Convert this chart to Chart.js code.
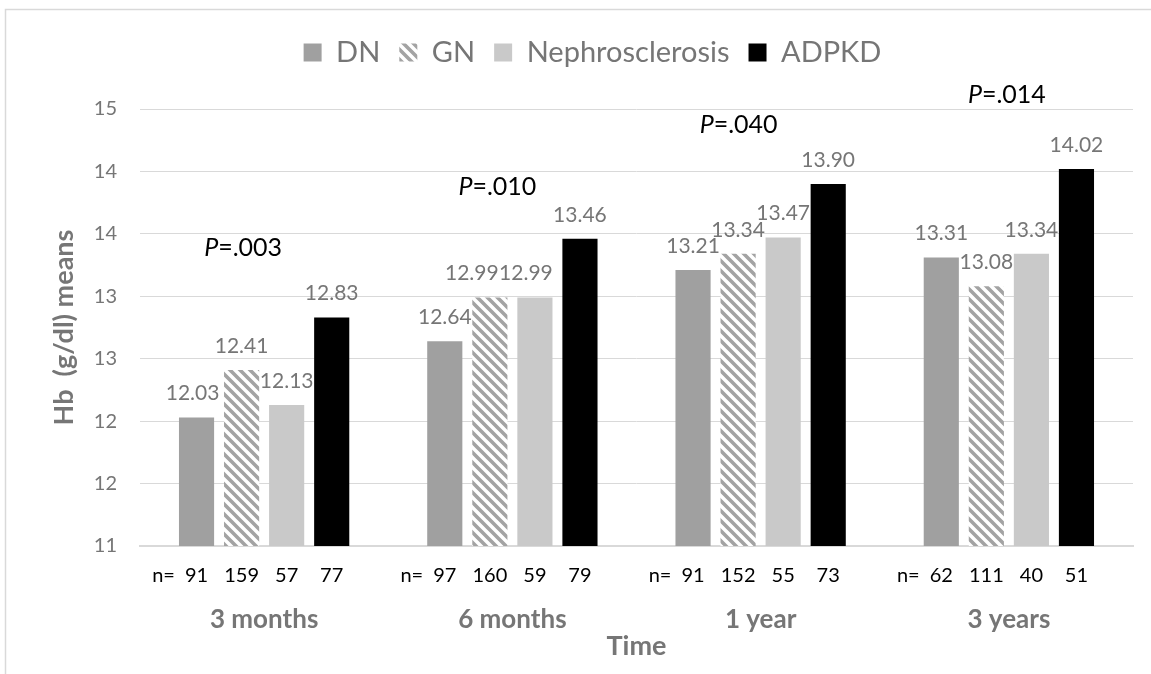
<!DOCTYPE html>
<html>
<head>
<meta charset="utf-8">
<script src="https://cdn.jsdelivr.net/npm/chart.js@4.4.1/dist/chart.umd.min.js"></script>
<style>
  html, body { margin: 0; padding: 0; background: #ffffff; }
  #wrap { position: relative; width: 1151px; height: 674px; }
</style>
</head>
<body>
<div id="wrap"><canvas id="chart"></canvas></div>
<script>
// Mean haemoglobin by primary kidney disease over follow-up
const categories = ['3 months', '6 months', '1 year', '3 years'];
const dnMeans = [12.03, 12.64, 13.21, 13.31];
const gnMeans = [12.41, 12.99, 13.34, 13.08];
const nephMeans = [12.13, 12.99, 13.47, 13.34];
const adpkdMeans = [12.83, 13.46, 13.90, 14.02];

// patients per group at each time point
const dnCounts = [91, 97, 91, 62];
const gnCounts = [159, 160, 152, 111];
const nephCounts = [57, 59, 55, 40];
const adpkdCounts = [77, 79, 73, 51];

// between-group P values per time point
const pValues = ['.003', '.010', '.040', '.014'];

// y tick labels (whole-number display of the half steps)
const yTickLabels = ['11', '12', '12', '13', '13', '14', '14', '15'];

const FONT = 'Lato, "Open Sans", sans-serif';
const GREY = '#767676';

// placement of the P-value annotations: px offset from group centre, height in Hb units
const pAnchor = [
  { dx: -21, y: 13.39 },
  { dx: -15, y: 13.875 },
  { dx: -22, y: 14.37 },
  { dx: -2,  y: 14.61 }
];
// small sideways shifts for crowded value labels, keyed "dataset-index"
const labelShift = { '0-0': -4, '1-1': -18, '2-1': -9 };

function hatchPattern() {
  const c = document.createElement('canvas');
  c.width = 10; c.height = 10;
  const g = c.getContext('2d');
  g.fillStyle = '#ffffff';
  g.fillRect(0, 0, 10, 10);
  g.strokeStyle = '#a3a3a3';
  g.lineWidth = 3.6;
  g.beginPath();
  for (const o of [-10, 0, 10]) {
    g.moveTo(o - 3, -3);
    g.lineTo(o + 13, 13);
  }
  g.stroke();
  return g.createPattern(c, 'repeat');
}

const annotations = {
  id: 'annotations',
  beforeDraw(chart) {
    const ctx = chart.ctx;
    ctx.save();
    ctx.strokeStyle = '#d9d9d9';
    ctx.lineWidth = 1.5;
    ctx.beginPath();
    ctx.moveTo(5.5, chart.height);
    ctx.lineTo(5.5, 9.5);
    ctx.lineTo(chart.width, 9.5);
    ctx.stroke();
    ctx.restore();
  },
  afterLayout(chart) {
    const lg = chart.legend;
    lg.left += 26; lg.right += 26;
    lg.top -= 32; lg.bottom -= 32;
  },
  afterDatasetsDraw(chart) {
    const ctx = chart.ctx;
    const y = chart.scales.y;
    const x = chart.scales.x;
    const counts = [dnCounts, gnCounts, nephCounts, adpkdCounts];
    ctx.save();

    // value labels above each bar
    ctx.font = '21px ' + FONT;
    ctx.fillStyle = GREY;
    ctx.textAlign = 'center';
    ctx.textBaseline = 'middle';
    chart.data.datasets.forEach((ds, di) => {
      const meta = chart.getDatasetMeta(di);
      meta.data.forEach((bar, i) => {
        const shift = labelShift[di + '-' + i] || 0;
        ctx.fillText(ds.data[i].toFixed(2), bar.x + shift, bar.y - 24);
      });
    });

    // group sizes under the axis
    ctx.font = '20px ' + FONT;
    ctx.fillStyle = '#000000';
    const rowY = 576;
    chart.data.datasets.forEach((ds, di) => {
      const meta = chart.getDatasetMeta(di);
      meta.data.forEach((bar, i) => {
        ctx.textAlign = 'center';
        ctx.fillText(String(counts[di][i]), bar.x, rowY);
        if (di === 0) {
          ctx.textAlign = 'right';
          ctx.fillText('n=', bar.x - bar.width / 2 - 4, rowY);
        }
      });
    });

    // P values
    ctx.fillStyle = '#000000';
    ctx.textAlign = 'left';
    pValues.forEach((p, i) => {
      const cx = x.getPixelForValue(i) + pAnchor[i].dx;
      const cy = y.getPixelForValue(pAnchor[i].y);
      ctx.font = 'italic 25px ' + FONT;
      const wP = ctx.measureText('P').width;
      ctx.font = '25px ' + FONT;
      const rest = '=' + p;
      const wR = ctx.measureText(rest).width;
      const x0 = cx - (wP + wR) / 2;
      ctx.font = 'italic 25px ' + FONT;
      ctx.fillText('P', x0, cy);
      ctx.font = '25px ' + FONT;
      ctx.fillText(rest, x0 + wP, cy);
    });
    ctx.restore();
  }
};

const gnFill = hatchPattern();

new Chart(document.getElementById('chart'), {
  type: 'bar',
  data: {
    labels: categories,
    datasets: [
      { label: 'DN', data: dnMeans, backgroundColor: '#a0a0a0', borderWidth: 0 },
      { label: 'GN', data: gnMeans, backgroundColor: gnFill, borderWidth: 0 },
      { label: 'Nephrosclerosis', data: nephMeans, backgroundColor: '#c9c9c9', borderWidth: 0 },
      { label: 'ADPKD', data: adpkdMeans, backgroundColor: '#000000', borderWidth: 0 }
    ]
  },
  options: {
    responsive: true,
    maintainAspectRatio: false,
    animation: false,
    categoryPercentage: 0.726,
    barPercentage: 0.78,
    layout: { padding: { top: 51, right: 18, bottom: 0, left: 0 } },
    plugins: {
      tooltip: { enabled: false },
      legend: {
        position: 'top',
        labels: {
          boxWidth: 18,
          boxHeight: 18,
          padding: 19,
          color: GREY,
          font: { family: FONT, size: 29 }
        }
      }
    },
    scales: {
      x: {
        grid: { display: false, drawTicks: false },
        border: { display: true, color: '#d9d9d9', width: 2 },
        ticks: {
          padding: 61,
          color: GREY,
          font: { family: FONT, size: 26, weight: 'bold', lineHeight: 1 }
        },
        title: {
          display: true,
          text: 'Time',
          color: GREY,
          font: { family: FONT, size: 27, weight: 'bold', lineHeight: 1 },
          padding: { top: 0, bottom: 14.5 }
        },
        afterFit(scale) { scale.height = 128; }
      },
      y: {
        min: 11,
        max: 14.5,
        grid: { color: '#d9d9d9', lineWidth: 1, drawTicks: false },
        border: { display: false },
        ticks: {
          stepSize: 0.5,
          padding: 23,
          color: GREY,
          font: { family: FONT, size: 20 },
          callback: (v, i) => yTickLabels[i]
        },
        title: {
          display: true,
          text: 'Hb  (g/dl) means',
          color: GREY,
          font: { family: FONT, size: 27, weight: 'bold', lineHeight: 1 },
          padding: { top: 51, bottom: 0 }
        },
        afterFit(scale) { scale.width = 140; }
      }
    }
  },
  plugins: [annotations]
});
</script>
</body>
</html>
